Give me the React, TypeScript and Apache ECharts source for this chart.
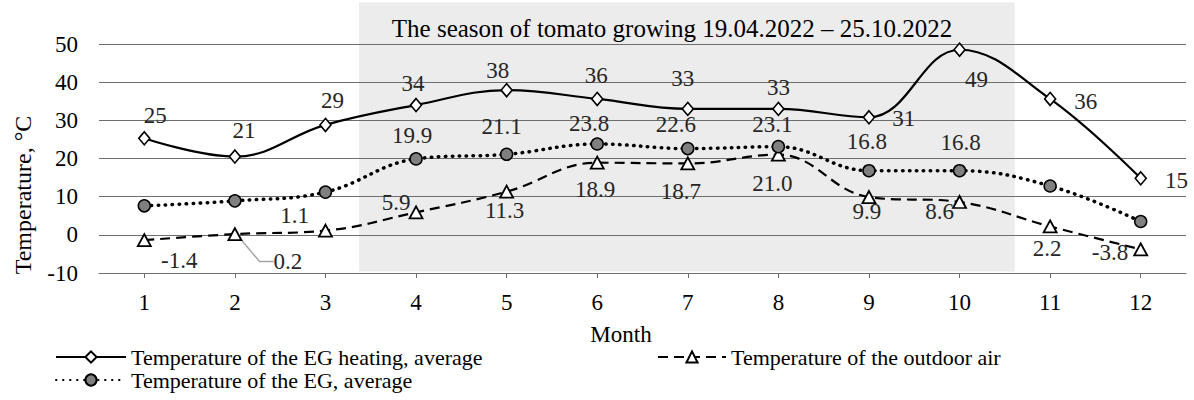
import React, { useEffect, useRef } from "react";
import * as echarts from "echarts";

const months = ["1", "2", "3", "4", "5", "6", "7", "8", "9", "10", "11", "12"];
const heatingAvg = [25.3, 20.5, 28.8, 34.0, 37.9, 35.6, 33.0, 33.0, 30.8, 48.5, 35.6, 14.8];
const egAvg = [7.6, 8.9, 11.2, 19.9, 21.1, 23.8, 22.6, 23.1, 16.8, 16.8, 12.8, 3.5];
const outdoorAir = [-1.4, 0.2, 1.1, 5.9, 11.3, 18.9, 18.7, 21.0, 9.9, 8.6, 2.2, -3.8];
const egLabelled = [false, false, false, true, true, true, true, true, true, true, false, false];

const seriesNames = [
  "Temperature of the EG heating, average",
  "Temperature of the outdoor air",
  "Temperature of the EG, average",
];
const seasonTitle = "The season of tomato growing 19.04.2022 – 25.10.2022";
// season band on the month scale (x) and temperature scale (y)
const season = [3.37, 10.61, -9.6, 60.9];

// label placement (style only)
const heatPos = ["top", "top", "top", "top", "top", "top", "top", "top", "right", "bottom", "right", "right"];
const heatOff = [[11, 1], [9, -2], [7, -1], [-3, 2], [-9, 4], [-1, 0], [-5, -7], [0, 2], [12, 1], [17, 6], [13, 3], [13, 2]];
const egOff = [[0, 0], [0, 0], [0, 0], [-4, 0], [-5, -5], [-8, 3], [-12, -1], [-6, 1], [-2, -6], [1, -5], [0, 0], [0, 0]];
const outPos = ["bottom", "bottom", "left", "left", "bottom", "bottom", "bottom", "bottom", "bottom", "left", "bottom", "left"];
const outShift = [[35, -3], [53, 4], [-4, -15], [7, -10], [-2, -5], [-2, 3], [-7, 5], [-6, 5], [-2, -9], [7, 9], [-3, -1], [0, 3]];

const FONT = "Liberation Serif";
const GRID = "#6e6e6e";
const LABEL = "#262626";
const FS = 23;

export default function App() {
  const ref = useRef<HTMLDivElement>(null);

  useEffect(() => {
    if (!ref.current) return;
    const chart = echarts.init(ref.current, null, { renderer: "svg" });

    const labelBase = { show: true, fontFamily: FONT, fontSize: FS, color: LABEL };
    const legendText = { fontFamily: FONT, fontSize: 22, color: "#000" };

    const option: any = {
      animation: false,
      backgroundColor: "#ffffff",
      textStyle: { fontFamily: FONT },
      grid: { left: 99, right: 8, top: 44, bottom: 127, containLabel: false },
      xAxis: [
        {
          type: "category",
          data: months,
          position: "bottom",
          boundaryGap: true,
          axisLine: { show: false, onZero: false },
          axisTick: { show: false },
          axisLabel: { fontFamily: FONT, fontSize: FS, color: "#000", margin: 18 },
          splitLine: { show: false },
        },
        {
          type: "value",
          min: 0.5,
          max: 12.5,
          show: false,
          position: "bottom",
        },
        {
          type: "category",
          data: months,
          position: "bottom",
          boundaryGap: true,
          axisLine: { show: true, onZero: true, lineStyle: { color: GRID, width: 1 } },
          axisTick: { show: true, alignWithLabel: true, length: 5, lineStyle: { color: GRID } },
          axisLabel: { show: false },
          splitLine: { show: false },
        },
      ],
      yAxis: {
        type: "value",
        min: -10,
        max: 50,
        interval: 10,
        axisLine: { show: false },
        axisTick: { show: false },
        axisLabel: { fontFamily: FONT, fontSize: FS, color: "#000", margin: 21 },
        splitLine: { lineStyle: { color: GRID, width: 1 } },
      },
      legend: [
        {
          data: [seriesNames[0]],
          left: 55,
          top: 346,
          padding: 0,
          itemWidth: 70,
          itemHeight: 14,
          selectedMode: false,
          textStyle: legendText,
        },
        {
          data: [seriesNames[1]],
          left: 657,
          top: 346,
          padding: 0,
          itemWidth: 68,
          itemHeight: 14,
          selectedMode: false,
          textStyle: legendText,
        },
        {
          data: [seriesNames[2]],
          left: 55,
          top: 369,
          padding: 0,
          itemWidth: 70,
          itemHeight: 14,
          selectedMode: false,
          textStyle: legendText,
        },
      ],
      graphic: [
        {
          type: "text",
          x: 672,
          y: 28,
          silent: true,
          style: {
            text: seasonTitle,
            align: "center",
            verticalAlign: "middle",
            fontFamily: FONT,
            fontSize: 25,
            fill: "#000",
          },
        },
        {
          type: "text",
          x: 23,
          y: 195,
          rotation: Math.PI / 2,
          silent: true,
          style: {
            text: "Temperature, °C",
            align: "center",
            verticalAlign: "middle",
            fontFamily: FONT,
            fontSize: 24,
            fill: "#000",
          },
        },
        {
          type: "text",
          x: 621,
          y: 334,
          silent: true,
          style: {
            text: "Month",
            align: "center",
            verticalAlign: "middle",
            fontFamily: FONT,
            fontSize: FS,
            fill: "#000",
          },
        },
      ],
      series: [
        {
          type: "custom",
          xAxisIndex: 1,
          yAxisIndex: 0,
          z: -1,
          silent: true,
          clip: false,
          data: [season],
          renderItem: (params: any, api: any) => {
            const p1 = api.coord([api.value(0), api.value(3)]);
            const p2 = api.coord([api.value(1), api.value(2)]);
            return {
              type: "rect",
              shape: { x: p1[0], y: p1[1], width: p2[0] - p1[0], height: p2[1] - p1[1] },
              style: { fill: "#ececec" },
            };
          },
        },
        {
          name: seriesNames[0],
          type: "line",
          xAxisIndex: 0,
          smooth: 0.4,
          symbol: "diamond",
          symbolSize: [11, 13],
          itemStyle: { color: "#ffffff", borderColor: "#000", borderWidth: 1.6 },
          lineStyle: { color: "#000", width: 2.2, type: "solid" },
          z: 3,
          data: heatingAvg.map((v, i) => ({
            value: v,
            label: {
              ...labelBase,
              position: heatPos[i],
              offset: heatOff[i],
              formatter: (p: any) => String(Math.round(p.value)),
            },
          })),
        },
        {
          name: seriesNames[1],
          type: "line",
          xAxisIndex: 0,
          smooth: 0.4,
          symbol: "triangle",
          symbolSize: [13, 12],
          itemStyle: { color: "#ffffff", borderColor: "#000", borderWidth: 1.8 },
          lineStyle: { color: "#000", width: 2.2, type: [10, 6] },
          z: 3,
          labelLayout: (p: any) => ({ dx: outShift[p.dataIndex][0], dy: outShift[p.dataIndex][1] }),
          data: outdoorAir.map((v, i) => ({
            value: v,
            label: {
              ...labelBase,
              position: outPos[i],
              formatter: (p: any) => Number(p.value).toFixed(1),
            },
            labelLine:
              i === 1
                ? { show: true, length2: 14, lineStyle: { color: "#a6a6a6", width: 1.5 } }
                : { show: false },
          })),
        },
        {
          name: seriesNames[2],
          type: "line",
          xAxisIndex: 0,
          smooth: 0.4,
          symbol: "circle",
          symbolSize: 12,
          itemStyle: { color: "#808080", borderColor: "#000", borderWidth: 1.5 },
          lineStyle: { color: "#000", width: 3.5, type: [0.5, 6.5], cap: "round" },
          z: 3,
          data: egAvg.map((v, i) => ({
            value: v,
            label: {
              ...labelBase,
              show: egLabelled[i],
              position: "top",
              offset: egOff[i],
              formatter: (p: any) => Number(p.value).toFixed(1),
            },
          })),
        },
      ],
    };

    chart.setOption(option);
    return () => chart.dispose();
  }, []);

  return (
    <div
      ref={ref}
      style={{ position: "absolute", left: 0, top: 0, width: 1194, height: 400, background: "#fff" }}
    />
  );
}
